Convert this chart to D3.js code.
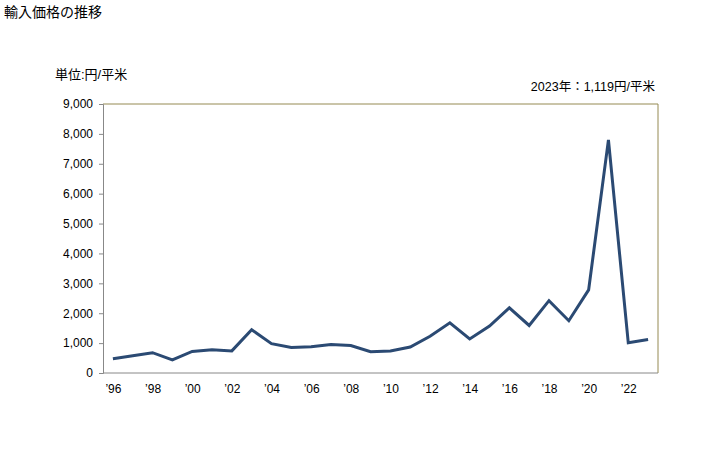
<!DOCTYPE html>
<html><head><meta charset="utf-8">
<script src="https://cdn.jsdelivr.net/npm/d3@7"></script>
<style>
body{margin:0;background:#fff;}
text{font-family:"Liberation Sans","Noto Sans CJK JP",sans-serif;}
</style></head>
<body><svg id="c" width="728" height="450"></svg>
<script>
const years = [1996,1997,1998,1999,2000,2001,2002,2003,2004,2005,2006,2007,2008,2009,2010,2011,2012,2013,2014,2015,2016,2017,2018,2019,2020,2021,2022,2023];
const prices = [480,580,680,440,720,780,740,1450,980,850,880,950,920,710,740,870,1230,1680,1140,1570,2180,1590,2420,1750,2780,7800,1010,1119];
const yTicks = [0,1000,2000,3000,4000,5000,6000,7000,8000,9000];
const xTickYears = [1996,1998,2000,2002,2004,2006,2008,2010,2012,2014,2016,2018,2020,2022];
const title = "輸入価格の推移";
const unitLabel = "単位:円/平米";
const note = "2023年：1,119円/平米";

const svg = d3.select("#c");
const L=103, R=658, T=104, B=373;
const x = d3.scalePoint().domain(years).range([L,R]).padding(0.5);
const y = d3.scaleLinear().domain([0,9000]).range([B,T]);

svg.append("text").attr("x",4).attr("y",17).attr("font-size",14).attr("fill","#000").text(title);
svg.append("text").attr("x",55).attr("y",79).attr("font-size",13).attr("fill","#000").text(unitLabel);
svg.append("text").attr("x",655).attr("y",91).attr("font-size",12.5).attr("text-anchor","end").attr("fill","#000").text(note);

svg.append("path").attr("d",`M${L},${T}H${R}V${B}`).attr("fill","none").attr("stroke","#958a52").attr("stroke-width",1);

const ya = svg.append("g").attr("transform",`translate(${L},0)`)
  .call(d3.axisLeft(y).tickValues(yTicks).tickSize(4).tickFormat(d3.format(",")));
ya.select(".domain").attr("stroke","#888");
ya.selectAll(".tick line").attr("stroke","#888");
ya.selectAll("text").attr("font-size",12).attr("fill","#000").attr("x",-10);

const xa = svg.append("g").attr("transform",`translate(0,${B})`)
  .call(d3.axisBottom(x).tickValues(xTickYears).tickSize(0).tickFormat(d=>"’"+String(d).slice(2)));
xa.select(".domain").attr("d",`M${L},0H${R}`).attr("stroke","#888");
xa.selectAll("text").attr("font-size",12).attr("fill","#000").attr("dy","1.45em");

const line = d3.line().x((d,i)=>x(years[i])).y(d=>y(d));
svg.append("path").datum(prices).attr("d",line).attr("fill","none")
  .attr("stroke","#2b4a73").attr("stroke-width",3).attr("stroke-linejoin","miter");
</script></body></html>
